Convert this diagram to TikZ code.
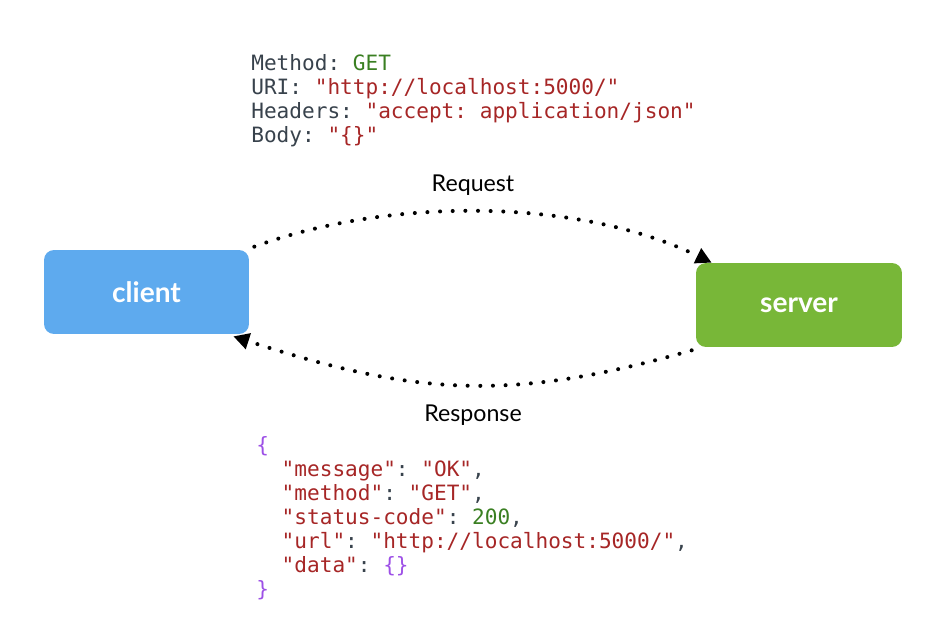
\documentclass[tikz,border=0pt]{standalone}
\usepackage{fontspec}
\usepackage{xcolor}
\usetikzlibrary{positioning, arrows.meta}
\setmainfont{Lato}
\newfontfamily\codefont{DejaVu Sans Mono}
\definecolor{clientblue}{RGB}{94,170,238}
\definecolor{servergreen}{RGB}{120,183,56}
\definecolor{codegray}{RGB}{56,66,76}
\definecolor{codered}{RGB}{166,38,38}
\definecolor{codegreen}{RGB}{58,127,34}
\definecolor{codepurple}{RGB}{157,80,230}
\newcommand{\jstr}[1]{\textcolor{codered}{#1}}
\newcommand{\jbr}[1]{\textcolor{codepurple}{#1}}
\newcommand{\jnum}[1]{\textcolor{codegreen}{#1}}

\begin{document}
\begin{tikzpicture}[x=0.02cm, y=0.02cm,
    box/.style={rounded corners=5.7pt, minimum width=4.1cm, minimum height=1.68cm, inner sep=0, text=white, font=\fontsize{16}{18}\selectfont\bfseries},
    dotline/.style={line width=2.3pt, line cap=round, dash pattern=on 0pt off 7.2pt, -{Triangle[length=9pt,width=9pt]}},
    code/.style={align=left, inner sep=0, text=codegray, font=\codefont\frenchspacing\fontsize{12}{13.66}\selectfont}]
    \useasboundingbox (0,0) rectangle (950,642);

    \node[box, fill=clientblue] (client) at (146.5,350) {client};
    \node[box, fill=servergreen, minimum width=4.12cm] (server) at (799,337) {server};

    \node[code, anchor=base west] (request) at (251,499)
        {Method: \jnum{GET}\\
         URI: \jstr{"http://localhost:5000/"}\\
         Headers: \jstr{"accept: application/json"}\\
         Body: \jstr{"\{\}"}};
    \node[anchor=base, font=\fontsize{13.2}{15}\selectfont] (reqlabel) at (473,450) {Request};

    \draw[dotline] ([shift={(5,3)}]client.north east) to[out=20, in=154, looseness=0.82] ([shift={(16,0)}]server.north west);
    \draw[dotline] ([shift={(-4,-3)}]server.south west) to[out=196, in=-18, looseness=1.06] ([shift={(-16,-2)}]client.south east);

    \node[anchor=base, font=\fontsize{13.2}{15}\selectfont] (resplabel) at (473,220) {Response};
    \node[code, anchor=base west] (response) at (256,45)
        {\jbr{\{}\\
         \phantom{xx}\jstr{"message"}: \jstr{"OK"},\\
         \phantom{xx}\jstr{"method"}: \jstr{"GET"},\\
         \phantom{xx}\jstr{"status-code"}: \jnum{200},\\
         \phantom{xx}\jstr{"url"}: \jstr{"http://localhost:5000/"},\\
         \phantom{xx}\jstr{"data"}: \jbr{\{\}}\\
         \jbr{\}}};
\end{tikzpicture}
\end{document}
